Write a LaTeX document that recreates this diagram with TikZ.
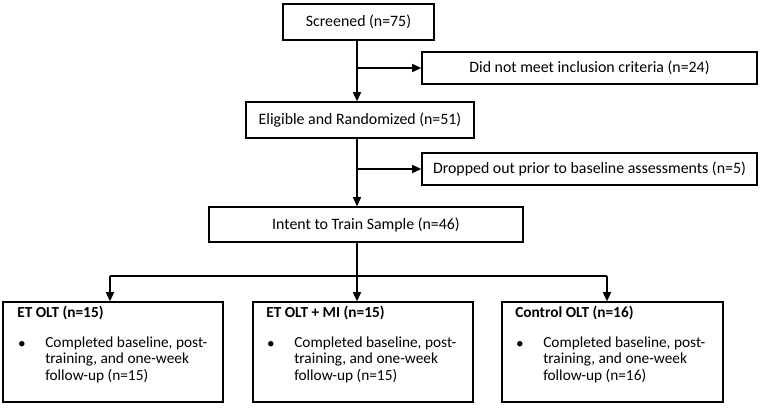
\documentclass[tikz,border=0pt]{standalone}
\usepackage{fontspec}
\setmainfont{Carlito}
\usetikzlibrary{arrows.meta}
\begin{document}
\begin{tikzpicture}[x=0.75pt,y=-0.75pt,
  box/.style={draw=black,line width=0.9pt,inner sep=0pt,font=\fontsize{11.9}{13}\selectfont},
  conn/.style={line width=1.3pt,-{Triangle[length=7pt,width=6pt]}},
  plain/.style={line width=1.3pt},
  ttl/.style={inner sep=0pt,font=\fontsize{11.5}{13}\selectfont\bfseries,anchor=west},
  bul/.style={inner sep=0pt,font=\fontsize{11.5}{13}\selectfont},
  body/.style={inner sep=0pt,anchor=north west,align=left,font=\fontsize{11.5}{12.4}\selectfont}]
\useasboundingbox (0,0) rectangle (762,407);
% boxes
\node[box,minimum width=151*0.75pt,minimum height=36*0.75pt] (scr) at (358.5,22) {Screened (n=75)};
\node[box,minimum width=335*0.75pt,minimum height=32*0.75pt] (dnm) at (589.5,68) {Did not meet inclusion criteria (n=24)};
\node[box,minimum width=228*0.75pt,minimum height=36*0.75pt] (elig) at (360,120) {Eligible and Randomized (n=51)};
\node[box,minimum width=335*0.75pt,minimum height=32*0.75pt] (drop) at (589.5,169) {Dropped out prior to baseline assessments (n=5)};
\node[box,minimum width=314*0.75pt,minimum height=35*0.75pt] (intent) at (366,224.5) {Intent to Train Sample (n=46)};
\node[box,minimum width=220*0.75pt,minimum height=100*0.75pt] (g1) at (113,352) {};
\node[box,minimum width=220*0.75pt,minimum height=100*0.75pt] (g2) at (363,352) {};
\node[box,minimum width=221*0.75pt,minimum height=100*0.75pt] (g3) at (612.5,352) {};
% group texts
\node[ttl] (t1) at (17,313) {ET OLT (n=15)};
\node[bul] (b1) at (22,345) {\textbullet};
\node[body] (d1) at (45,336.5) {Completed baseline, post-\\training, and one-week\\follow-up (n=15)};
\node[ttl] (t2) at (266,313) {ET OLT + MI (n=15)};
\node[bul] (b2) at (271,345) {\textbullet};
\node[body] (d2) at (294,336.5) {Completed baseline, post-\\training, and one-week\\follow-up (n=15)};
\node[ttl] (t3) at (515,313) {Control OLT (n=16)};
\node[bul] (b3) at (520,345) {\textbullet};
\node[body] (d3) at (543,336.5) {Completed baseline, post-\\training, and one-week\\follow-up (n=16)};
% trunk
\coordinate (j1) at (357,68);
\coordinate (j2) at (357,169);
\coordinate (j3) at (357,276);
\coordinate (l3) at (110,276);
\coordinate (r3) at (607,276);
\draw[conn] (scr.south -| j1) -- (elig.north -| j1);
\draw[conn] (j1) -- (dnm.west);
\draw[conn] (elig.south -| j2) -- (intent.north -| j2);
\draw[conn] (j2) -- (drop.west);
\draw[conn] (intent.south -| j3) -- (g2.north -| j3);
\draw[plain] (l3) -- (r3);
\draw[conn] (l3) -- (g1.north -| l3);
\draw[conn] (r3) -- (g3.north -| r3);
\end{tikzpicture}
\end{document}
